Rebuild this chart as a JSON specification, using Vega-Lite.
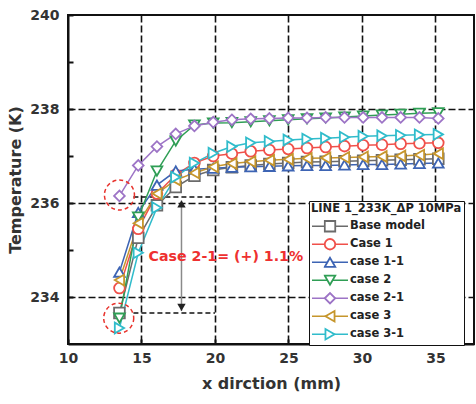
{
  "$schema": "https://vega.github.io/schema/vega-lite/v6.json",
  "width": 406,
  "height": 329,
  "autosize": "none",
  "padding": {"left": 68, "top": 15, "right": 2, "bottom": 60},
  "background": "white",
  "config": {
    "font": "DejaVu Sans",
    "view": {"stroke": "#111", "strokeWidth": 2},
    "axis": {
      "domainColor": "#111", "domainWidth": 2,
      "tickColor": "#111", "tickWidth": 2, "tickSize": -5,
      "labelFontSize": 14, "labelFontWeight": "bold", "labelColor": "#333",
      "titleFontSize": 16, "titleFontWeight": "bold", "titleColor": "#333",
      "gridColor": "#111", "gridDash": [7, 3], "gridWidth": 1.6
    }
  },
  "datasets": {
    "temps": [
      {"x": 13.5, "Base model": 233.66, "Case 1": 234.19, "case 1-1": 234.53, "case 2": 233.55, "case 2-1": 236.15, "case 3": 234.36, "case 3-1": 233.34},
      {"x": 14.78, "Base model": 235.26, "Case 1": 235.45, "case 1-1": 235.8, "case 2": 235.7, "case 2-1": 236.8, "case 3": 235.57, "case 3-1": 234.94},
      {"x": 16.05, "Base model": 235.95, "Case 1": 236.2, "case 1-1": 236.38, "case 2": 236.68, "case 2-1": 237.2, "case 3": 236.2, "case 3-1": 235.9},
      {"x": 17.33, "Base model": 236.34, "Case 1": 236.6, "case 1-1": 236.68, "case 2": 237.32, "case 2-1": 237.47, "case 3": 236.49, "case 3-1": 236.55},
      {"x": 18.6, "Base model": 236.58, "Case 1": 236.85, "case 1-1": 236.72, "case 2": 237.66, "case 2-1": 237.64, "case 3": 236.64, "case 3-1": 236.85},
      {"x": 19.88, "Base model": 236.7, "Case 1": 237.0, "case 1-1": 236.74, "case 2": 237.7, "case 2-1": 237.72, "case 3": 236.77, "case 3-1": 237.06},
      {"x": 21.15, "Base model": 236.76, "Case 1": 237.05, "case 1-1": 236.76, "case 2": 237.71, "case 2-1": 237.77, "case 3": 236.84, "case 3-1": 237.2},
      {"x": 22.43, "Base model": 236.8, "Case 1": 237.1, "case 1-1": 236.77, "case 2": 237.73, "case 2-1": 237.79, "case 3": 236.88, "case 3-1": 237.28},
      {"x": 23.7, "Base model": 236.83, "Case 1": 237.13, "case 1-1": 236.78, "case 2": 237.75, "case 2-1": 237.8, "case 3": 236.91, "case 3-1": 237.31},
      {"x": 24.98, "Base model": 236.85, "Case 1": 237.15, "case 1-1": 236.79, "case 2": 237.77, "case 2-1": 237.81, "case 3": 236.93, "case 3-1": 237.34},
      {"x": 26.26, "Base model": 236.87, "Case 1": 237.17, "case 1-1": 236.8, "case 2": 237.79, "case 2-1": 237.81, "case 3": 236.95, "case 3-1": 237.36},
      {"x": 27.53, "Base model": 236.88, "Case 1": 237.19, "case 1-1": 236.8, "case 2": 237.81, "case 2-1": 237.82, "case 3": 236.96, "case 3-1": 237.38},
      {"x": 28.81, "Base model": 236.89, "Case 1": 237.21, "case 1-1": 236.81, "case 2": 237.83, "case 2-1": 237.82, "case 3": 236.97, "case 3-1": 237.4},
      {"x": 30.08, "Base model": 236.9, "Case 1": 237.23, "case 1-1": 236.82, "case 2": 237.85, "case 2-1": 237.82, "case 3": 236.98, "case 3-1": 237.42},
      {"x": 31.36, "Base model": 236.91, "Case 1": 237.24, "case 1-1": 236.82, "case 2": 237.87, "case 2-1": 237.82, "case 3": 236.99, "case 3-1": 237.43},
      {"x": 32.63, "Base model": 236.92, "Case 1": 237.26, "case 1-1": 236.83, "case 2": 237.89, "case 2-1": 237.82, "case 3": 237.0, "case 3-1": 237.44},
      {"x": 33.91, "Base model": 236.93, "Case 1": 237.27, "case 1-1": 236.84, "case 2": 237.91, "case 2-1": 237.82, "case 3": 237.02, "case 3-1": 237.45},
      {"x": 35.19, "Base model": 236.94, "Case 1": 237.28, "case 1-1": 236.85, "case 2": 237.92, "case 2-1": 237.8, "case 3": 237.05, "case 3-1": 237.46}
    ]
  },
  "layer": [
    {
      "data": {"values": [
        {"x": 14.45, "x2": 20, "temp": 236.13},
        {"x": 14.45, "x2": 20, "temp": 233.66}
      ]},
      "mark": {"type": "rule", "color": "#111", "strokeDash": [5, 3], "strokeWidth": 1.5},
      "encoding": {
        "x": {"field": "x", "type": "quantitative"},
        "x2": {"field": "x2"},
        "y": {"field": "temp", "type": "quantitative"}
      }
    },
    {
      "data": {"values": [{"x": 17.72, "temp": 236.05, "temp2": 233.7}]},
      "mark": {"type": "rule", "color": "#8a8a8a", "strokeWidth": 1.5},
      "encoding": {
        "x": {"field": "x", "type": "quantitative"},
        "y": {"field": "temp", "type": "quantitative"},
        "y2": {"field": "temp2"}
      }
    },
    {
      "data": {"name": "temps"},
      "transform": [
        {"fold": ["Base model", "Case 1", "case 1-1", "case 2", "case 2-1", "case 3", "case 3-1"], "as": ["series", "temp"]}
      ],
      "mark": {"type": "line", "strokeWidth": 1.5},
      "encoding": {
        "x": {
          "field": "x", "type": "quantitative",
          "scale": {"domain": [10, 37.62], "nice": false, "zero": false},
          "axis": {
            "title": "x dirction (mm)",
            "values": [10, 12.5, 15, 17.5, 20, 22.5, 25, 27.5, 30, 32.5, 35, 37.5],
            "format": "d",
            "labelExpr": "datum.value % 5 == 0 ? datum.label : ''",
            "labelFlush": false,
            "labelPadding": 12,
            "titlePadding": 10,
            "grid": true,
            "gridOpacity": {"condition": {"test": "datum.value % 5 != 0 || datum.value == 10", "value": 0}, "value": 1}
          }
        },
        "y": {
          "field": "temp", "type": "quantitative",
          "scale": {"domain": [233, 240], "nice": false, "zero": false},
          "axis": {
            "title": "Temperature (K)",
            "values": [234, 235, 236, 237, 238, 239, 240],
            "format": "d",
            "labelExpr": "datum.value % 2 == 0 ? datum.label : ''",
            "labelPadding": 14,
            "titlePadding": 6,
            "grid": true,
            "gridOpacity": {"condition": {"test": "datum.value % 2 == 1 || datum.value == 240", "value": 0}, "value": 1}
          }
        },
        "stroke": {
          "field": "series", "type": "nominal",
          "scale": {
            "range": ["#6b6b6b", "#f0504a", "#3d64b4", "#2f9e55", "#9d74c6", "#c6962c", "#30bccb"]
          },
          "legend": {
            "orient": "none", "legendX": 241, "legendY": 186, "zindex": 0,
            "title": "LINE 1_233K_ΔP 10MPa",
            "titleFontSize": 11.5, "titleFontWeight": "bold", "titleColor": "#222", "titlePadding": 3,
            "symbolType": "stroke", "symbolSize": 1296, "symbolStrokeWidth": 1.6,
            "clipHeight": 17.5, "rowPadding": 0,
            "labelFontSize": 11.5, "labelFontWeight": "bold", "labelColor": "#222", "labelOffset": 1,
            "padding": 2, "strokeColor": "#111", "fillColor": "white", "symbolOffset": 0
          }
        }
      }
    },
    {
      "data": {"name": "temps"},
      "transform": [
        {"fold": ["Base model", "Case 1", "case 1-1", "case 2", "case 2-1", "case 3", "case 3-1"], "as": ["series", "temp"]}
      ],
      "mark": {"type": "point", "filled": false, "fill": "white", "size": 115, "strokeWidth": 1.8, "opacity": 1},
      "encoding": {
        "x": {"field": "x", "type": "quantitative"},
        "y": {"field": "temp", "type": "quantitative"},
        "color": {
          "field": "series", "type": "nominal",
          "scale": {
            "domain": ["Base model", "Case 1", "case 1-1", "case 2", "case 2-1", "case 3", "case 3-1"],
            "range": ["#6b6b6b", "#f0504a", "#3d64b4", "#2f9e55", "#9d74c6", "#c6962c", "#30bccb"]
          },
          "legend": {
            "orient": "none", "legendX": 253.5, "legendY": 186, "zindex": 2,
            "title": " ",
            "titleFontSize": 11.5, "titleFontWeight": "bold", "titleColor": "#222", "titlePadding": 3,
            "symbolSize": 110, "symbolStrokeWidth": 1.8,
            "clipHeight": 17.5, "rowPadding": 0,
            "labelFontSize": 11.5, "labelFontWeight": "bold", "labelColor": "#222", "labelOffset": 1,
            "labelExpr": "''",
            "padding": 2, "symbolOffset": 0,
            "encode": {"symbols": {"fill": {"value": "white"}}}
          }
        },
        "shape": {
          "field": "series", "type": "nominal",
          "scale": {
            "domain": ["Base model", "Case 1", "case 1-1", "case 2", "case 2-1", "case 3", "case 3-1"],
            "range": ["square", "circle", "triangle-up", "triangle-down", "diamond", "triangle-left", "triangle-right"]
          },
          "legend": {
            "orient": "none", "legendX": 253.5, "legendY": 186, "zindex": 2,
            "title": " ",
            "titleFontSize": 11.5, "titleFontWeight": "bold", "titleColor": "#222", "titlePadding": 3,
            "symbolSize": 110, "symbolStrokeWidth": 1.8,
            "clipHeight": 17.5, "rowPadding": 0,
            "labelFontSize": 11.5, "labelFontWeight": "bold", "labelColor": "#222", "labelOffset": 1,
            "labelExpr": "''",
            "padding": 2, "symbolOffset": 0,
            "encode": {"symbols": {"fill": {"value": "white"}}}
          }
        }
      }
    },
    {
      "data": {"values": [{"x": 13.5, "temp": 236.17}, {"x": 13.45, "temp": 233.55}]},
      "mark": {"type": "point", "shape": "circle", "size": 900, "filled": false, "color": "#e8322c", "strokeDash": [4, 3], "strokeWidth": 1.5, "opacity": 1},
      "encoding": {
        "x": {"field": "x", "type": "quantitative"},
        "y": {"field": "temp", "type": "quantitative"}
      }
    },
    {
      "data": {"values": [{"x": 17.72, "temp": 235.98}]},
      "mark": {"type": "point", "shape": "triangle-up", "filled": true, "color": "#222", "size": 70, "opacity": 1},
      "encoding": {
        "x": {"field": "x", "type": "quantitative"},
        "y": {"field": "temp", "type": "quantitative"}
      }
    },
    {
      "data": {"values": [{"x": 17.72, "temp": 233.78}]},
      "mark": {"type": "point", "shape": "triangle-down", "filled": true, "color": "#222", "size": 70, "opacity": 1},
      "encoding": {
        "x": {"field": "x", "type": "quantitative"},
        "y": {"field": "temp", "type": "quantitative"}
      }
    },
    {
      "data": {"values": [{"x": 15.48, "temp": 234.85, "label": "Case 2-1= (+) 1.1%"}]},
      "mark": {"type": "text", "align": "left", "baseline": "middle", "fontWeight": "bold", "fontSize": 14.2, "color": "#ee3030"},
      "encoding": {
        "x": {"field": "x", "type": "quantitative"},
        "y": {"field": "temp", "type": "quantitative"},
        "text": {"field": "label"}
      }
    }
  ]
}
